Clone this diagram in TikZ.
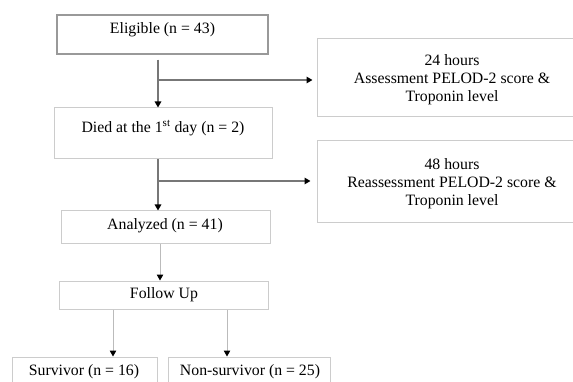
\documentclass[tikz,border=0pt]{standalone}
\usepackage{fontspec}
\setmainfont{Liberation Serif}
\usetikzlibrary{arrows.meta}
\definecolor{boxdark}{HTML}{999999}
\definecolor{boxlight}{HTML}{CCCCCC}
\definecolor{linedark}{HTML}{777777}
\definecolor{linelight}{HTML}{BBBBBB}
\tikzset{
  box/.style={draw=boxlight, line width=1pt, fill=white},
  boxstrong/.style={draw=boxdark, line width=1.3pt, fill=white},
  txt/.style={inner sep=0pt, align=center, font=\fontsize{15.8}{18.2}\selectfont},
  conn/.style={draw=linedark, line width=1.8pt, -{Triangle[length=6pt,width=6.5pt,color=black]}},
  connplain/.style={draw=linedark, line width=1.8pt},
  connthin/.style={draw=linelight, line width=1pt, -{Triangle[length=6pt,width=6.5pt,color=black]}},
}
\begin{document}
\begin{tikzpicture}[x=1pt,y=-1pt]
\clip (0,0) rectangle (573,382);
\fill[white] (0,0) rectangle (573,382);
% boxes
\node[boxstrong, minimum width=211pt, minimum height=39pt, inner sep=0pt] (elig) at (162.5,34.5) {};
\node[box, minimum width=290pt, minimum height=78pt, inner sep=0pt] (r1) at (462,78) {};
\node[box, minimum width=218pt, minimum height=51pt, inner sep=0pt] (died) at (163,133.5) {};
\node[box, minimum width=290pt, minimum height=82pt, inner sep=0pt] (r2) at (462,182) {};
\node[box, minimum width=209pt, minimum height=33pt, inner sep=0pt] (anal) at (165.5,227.5) {};
\node[box, minimum width=209pt, minimum height=28pt, inner sep=0pt] (follow) at (163.5,295) {};
\node[box, minimum width=145pt, minimum height=60pt, inner sep=0pt] (surv) at (84.5,387) {};
\node[box, minimum width=162pt, minimum height=60pt, inner sep=0pt] (nonsurv) at (249,387) {};
% texts
\node[txt] (teli) at (162.5,30) {Eligible (n = 43)};
\node[txt] (tr1) at (452,80) {24 hours\\Assessment PELOD-2 score \&\\Troponin level};
\node[txt] (tdied) at (163,128) {Died at the 1\textsuperscript{st} day (n = 2)};
\node[txt] (tr2) at (452,183.5) {48 hours\\Reassessment PELOD-2 score \&\\Troponin level};
\node[txt] (tanal) at (165,226) {Analyzed (n = 41)};
\node[txt] (tfollow) at (164,295) {Follow Up};
\node[txt] (tsurv) at (84,372) {Survivor (n = 16)};
\node[txt] (tnon) at (250,372) {Non-survivor (n = 25)};
% connectors
\coordinate (b1) at (158,80);
\coordinate (b2) at (158,181);
\draw[conn] ([yshift=-5pt]elig.south -| b1) -- (died.north -| b1);
\draw[conn] (b1) -- ([xshift=-4pt]r1.west |- b1);
\draw[conn] (died.south -| b2) -- (anal.north -| b2);
\draw[conn] (b2) -- ([xshift=-6pt]r2.west |- b2);
\draw[connthin] (anal.south -| 160,0) -- (follow.north -| 160,0);
\draw[connthin] (follow.south -| surv.north) ++(28.5,0) coordinate (s1) -- (s1 |- surv.north);
\draw[connthin] (follow.south -| nonsurv.north) ++(-22,0) coordinate (s2) -- (s2 |- nonsurv.north);
\end{tikzpicture}
\end{document}
